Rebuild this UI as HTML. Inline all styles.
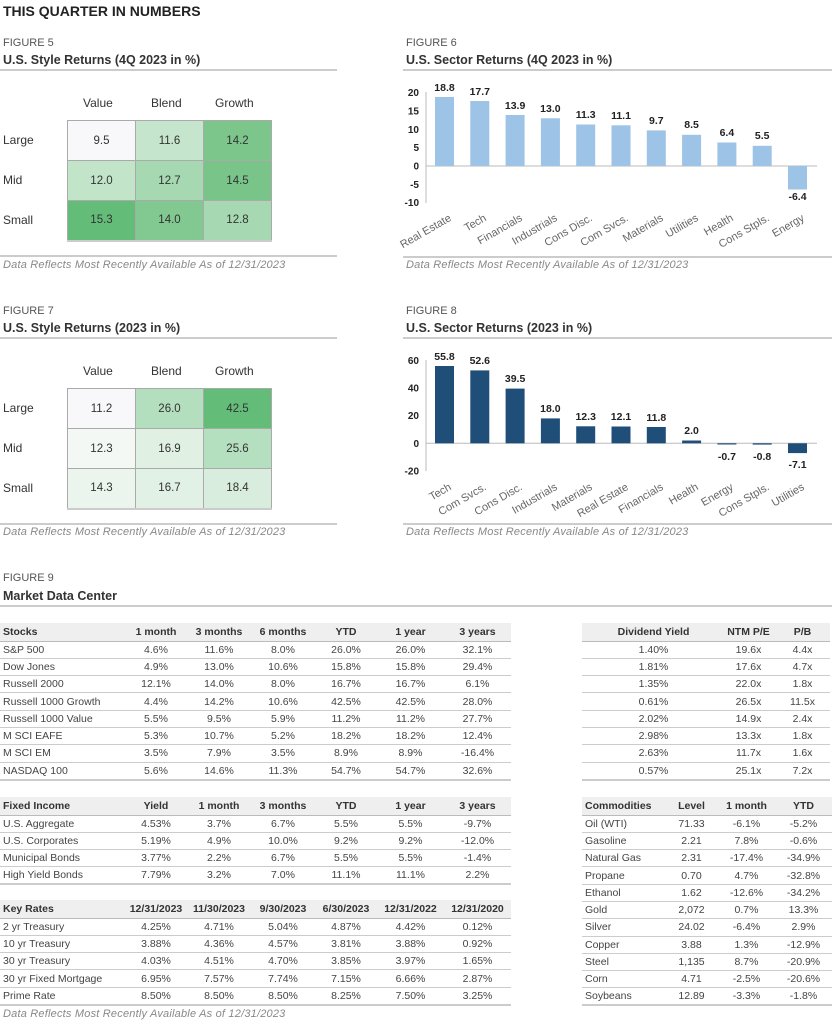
<!DOCTYPE html>
<html><head><meta charset="utf-8">
<style>
*{margin:0;padding:0;box-sizing:border-box}
body{width:832px;height:1024px;background:#fff;position:relative;font-family:"Liberation Sans",sans-serif;color:#333;overflow:hidden}
.a{position:absolute;white-space:nowrap}
.fig{font-size:11px;color:#555}
.ttl{font-size:12.5px;font-weight:bold;color:#333}
.rule{position:absolute;height:2px;background:#ccc}
.foot{font-size:11px;font-style:italic;color:#888;letter-spacing:0.2px}
table{position:absolute;border-collapse:collapse;table-layout:fixed;font-size:10.5px}
td{height:17.3px;border-bottom:1px solid #ccc;text-align:center;padding:0;line-height:16px;color:#444}
td:first-child{text-align:left;padding-left:3px}
tr.h td{background:#efefef;font-weight:bold;border-bottom:1.5px solid #bbb;height:18px;color:#333}
tr:last-child td{border-bottom:2px solid #ccc}
.hm{position:absolute;border-collapse:collapse;font-size:11.5px}
.hm td{border:1px solid #aaa;width:68px;height:40px;text-align:center;padding:0;color:#333}
.hm td:first-child{text-align:center;padding:0}
.lab{font-size:12px;color:#333}
</style></head><body>
<div class="a" style="left:3px;top:3px;font-size:14px;font-weight:bold;color:#222">THIS QUARTER IN NUMBERS</div>

<!-- Figure 5 -->
<div class="a fig" style="left:3px;top:37px">FIGURE 5</div>
<div class="a ttl" style="left:3px;top:53px">U.S. Style Returns (4Q 2023 in %)</div>
<div class="rule" style="left:0;top:69px;width:337px"></div>
<div class="a lab" style="left:83px;top:96px">Value</div>
<div class="a lab" style="left:151px;top:96px">Blend</div>
<div class="a lab" style="left:215px;top:96px">Growth</div>
<div class="a lab" style="left:3px;top:133px">Large</div>
<div class="a lab" style="left:3px;top:173px">Mid</div>
<div class="a lab" style="left:3px;top:213px">Small</div>
<table class="hm" style="left:67px;top:120px">
<tr><td style="background:#f8f8fb">9.5</td><td style="background:#c5e6cc">11.6</td><td style="background:#7cc68c">14.2</td></tr>
<tr><td style="background:#c2e5c9">12.0</td><td style="background:#a6d9b1">12.7</td><td style="background:#78c489">14.5</td></tr>
<tr><td style="background:#63bd78">15.3</td><td style="background:#82c991">14.0</td><td style="background:#a6d9b1">12.8</td></tr>
</table>
<div class="rule" style="left:0;top:255px;width:337px"></div>
<div class="a foot" style="left:3px;top:259px">Data Reflects Most Recently Available As of 12/31/2023</div>

<!-- Figure 7 -->
<div class="a fig" style="left:3px;top:305px">FIGURE 7</div>
<div class="a ttl" style="left:3px;top:321px">U.S. Style Returns (2023 in %)</div>
<div class="rule" style="left:0;top:337px;width:337px"></div>
<div class="a lab" style="left:83px;top:364px">Value</div>
<div class="a lab" style="left:151px;top:364px">Blend</div>
<div class="a lab" style="left:215px;top:364px">Growth</div>
<div class="a lab" style="left:3px;top:401px">Large</div>
<div class="a lab" style="left:3px;top:441px">Mid</div>
<div class="a lab" style="left:3px;top:481px">Small</div>
<table class="hm" style="left:67px;top:388px">
<tr><td style="background:#f8f8fb">11.2</td><td style="background:#b3dfbe">26.0</td><td style="background:#63bd78">42.5</td></tr>
<tr><td style="background:#f3f8f5">12.3</td><td style="background:#e0f1e4">16.9</td><td style="background:#b5e0c0">25.6</td></tr>
<tr><td style="background:#ebf5ee">14.3</td><td style="background:#e1f1e5">16.7</td><td style="background:#d8eddd">18.4</td></tr>
</table>
<div class="rule" style="left:0;top:523px;width:337px"></div>
<div class="a foot" style="left:3px;top:526px">Data Reflects Most Recently Available As of 12/31/2023</div>

<!-- Figure 6 & 8 -->
<div class="a fig" style="left:406px;top:37px">FIGURE 6</div>
<div class="a ttl" style="left:406px;top:53px">U.S. Sector Returns (4Q 2023 in %)</div>
<div class="rule" style="left:403px;top:69px;width:429px"></div>
<div class="rule" style="left:403px;top:256px;width:429px"></div>
<div class="a foot" style="left:406px;top:259px">Data Reflects Most Recently Available As of 12/31/2023</div>
<div class="a fig" style="left:406px;top:305px">FIGURE 8</div>
<div class="a ttl" style="left:406px;top:321px">U.S. Sector Returns (2023 in %)</div>
<div class="rule" style="left:403px;top:337px;width:429px"></div>
<div class="rule" style="left:403px;top:523px;width:429px"></div>
<div class="a foot" style="left:406px;top:526px">Data Reflects Most Recently Available As of 12/31/2023</div>

<svg class="a" style="left:0;top:0" width="832" height="1024" font-family="Liberation Sans, sans-serif">
<g font-size="10" font-weight="bold" fill="#222" text-anchor="end">
<text x="419" y="96">20</text><text x="419" y="114.5">15</text><text x="419" y="133">10</text><text x="419" y="151">5</text><text x="419" y="169.5">0</text><text x="419" y="188">-5</text><text x="419" y="206">-10</text>
<text x="419" y="364">60</text><text x="419" y="391.5">40</text><text x="419" y="419">20</text><text x="419" y="447">0</text><text x="419" y="474.5">-20</text>
</g>
<g stroke="#bbb" stroke-width="1">
<line x1="426" y1="92" x2="426" y2="203"/><line x1="426" y1="166" x2="817" y2="166"/>
<line x1="426" y1="360" x2="426" y2="471"/><line x1="426" y1="443.3" x2="817" y2="443.3"/>
</g>
<g fill="#9dc3e6">
<rect x="435" y="97" width="19" height="69"/><rect x="470.3" y="101" width="19" height="65"/><rect x="505.6" y="115" width="19" height="51"/><rect x="540.9" y="118.3" width="19" height="47.7"/><rect x="576.2" y="124.5" width="19" height="41.5"/><rect x="611.5" y="125.3" width="19" height="40.7"/><rect x="646.8" y="130.4" width="19" height="35.6"/><rect x="682.1" y="134.8" width="19" height="31.2"/><rect x="717.4" y="142.5" width="19" height="23.5"/><rect x="752.7" y="145.8" width="19" height="20.2"/><rect x="788" y="166" width="19" height="23.5"/>
</g>
<g fill="#1f4e79">
<rect x="435" y="366" width="19" height="77.3"/><rect x="470.3" y="370.4" width="19" height="72.9"/><rect x="505.6" y="388.6" width="19" height="54.7"/><rect x="540.9" y="418.4" width="19" height="24.9"/><rect x="576.2" y="426.3" width="19" height="17"/><rect x="611.5" y="426.5" width="19" height="16.8"/><rect x="646.8" y="427" width="19" height="16.3"/><rect x="682.1" y="440.5" width="19" height="2.8"/><rect x="717.4" y="443.3" width="19" height="1.2"/><rect x="752.7" y="443.3" width="19" height="1.3"/><rect x="788" y="443.3" width="19" height="9.8"/>
</g>
<g font-size="10.5" font-weight="bold" fill="#222" text-anchor="middle">
<text x="444.5" y="91">18.8</text><text x="479.8" y="95">17.7</text><text x="515.1" y="109">13.9</text><text x="550.4" y="112">13.0</text><text x="585.7" y="118">11.3</text><text x="621" y="119">11.1</text><text x="656.3" y="124">9.7</text><text x="691.6" y="128">8.5</text><text x="726.9" y="136">6.4</text><text x="762.2" y="139">5.5</text><text x="797.5" y="200">-6.4</text>
<text x="444.5" y="360">55.8</text><text x="479.8" y="364">52.6</text><text x="515.1" y="382">39.5</text><text x="550.4" y="412">18.0</text><text x="585.7" y="420">12.3</text><text x="621" y="420">12.1</text><text x="656.3" y="421">11.8</text><text x="691.6" y="434">2.0</text><text x="726.9" y="460">-0.7</text><text x="762.2" y="460">-0.8</text><text x="797.5" y="468">-7.1</text>
</g>
<g font-size="11" fill="#666" text-anchor="end">
<text transform="translate(452,220) rotate(-30)">Real Estate</text><text transform="translate(487,220) rotate(-30)">Tech</text><text transform="translate(523,220) rotate(-30)">Financials</text><text transform="translate(558,220) rotate(-30)">Industrials</text><text transform="translate(593,220) rotate(-30)">Cons Disc.</text><text transform="translate(629,220) rotate(-30)">Com Svcs.</text><text transform="translate(664,220) rotate(-30)">Materials</text><text transform="translate(699,220) rotate(-30)">Utilities</text><text transform="translate(734,220) rotate(-30)">Health</text><text transform="translate(770,220) rotate(-30)">Cons Stpls.</text><text transform="translate(805,220) rotate(-30)">Energy</text>
<text transform="translate(452,489) rotate(-30)">Tech</text><text transform="translate(487,489) rotate(-30)">Com Svcs.</text><text transform="translate(523,489) rotate(-30)">Cons Disc.</text><text transform="translate(558,489) rotate(-30)">Industrials</text><text transform="translate(593,489) rotate(-30)">Materials</text><text transform="translate(629,489) rotate(-30)">Real Estate</text><text transform="translate(664,489) rotate(-30)">Financials</text><text transform="translate(699,489) rotate(-30)">Health</text><text transform="translate(734,489) rotate(-30)">Energy</text><text transform="translate(770,489) rotate(-30)">Cons Stpls.</text><text transform="translate(805,489) rotate(-30)">Utilities</text>
</g>
</svg>

<!-- Figure 9 -->
<div class="a fig" style="left:3px;top:572px">FIGURE 9</div>
<div class="a ttl" style="left:3px;top:589px">Market Data Center</div>
<div class="rule" style="left:0;top:605px;width:832px"></div>

<table style="left:0;top:623px;width:511px">
<colgroup><col style="width:125px"><col style="width:62px"><col style="width:64px"><col style="width:64px"><col style="width:62px"><col style="width:67px"><col style="width:67px"></colgroup>
<tr class="h"><td>Stocks</td><td>1 month</td><td>3 months</td><td>6 months</td><td>YTD</td><td>1 year</td><td>3 years</td></tr>
<tr><td>S&amp;P 500</td><td>4.6%</td><td>11.6%</td><td>8.0%</td><td>26.0%</td><td>26.0%</td><td>32.1%</td></tr>
<tr><td>Dow Jones</td><td>4.9%</td><td>13.0%</td><td>10.6%</td><td>15.8%</td><td>15.8%</td><td>29.4%</td></tr>
<tr><td>Russell 2000</td><td>12.1%</td><td>14.0%</td><td>8.0%</td><td>16.7%</td><td>16.7%</td><td>6.1%</td></tr>
<tr><td>Russell 1000 Growth</td><td>4.4%</td><td>14.2%</td><td>10.6%</td><td>42.5%</td><td>42.5%</td><td>28.0%</td></tr>
<tr><td>Russell 1000 Value</td><td>5.5%</td><td>9.5%</td><td>5.9%</td><td>11.2%</td><td>11.2%</td><td>27.7%</td></tr>
<tr><td>M SCI EAFE</td><td>5.3%</td><td>10.7%</td><td>5.2%</td><td>18.2%</td><td>18.2%</td><td>12.4%</td></tr>
<tr><td>M SCI EM</td><td>3.5%</td><td>7.9%</td><td>3.5%</td><td>8.9%</td><td>8.9%</td><td>-16.4%</td></tr>
<tr><td>NASDAQ 100</td><td>5.6%</td><td>14.6%</td><td>11.3%</td><td>54.7%</td><td>54.7%</td><td>32.6%</td></tr>
</table>

<table style="left:582px;top:623px;width:248px">
<colgroup><col style="width:140px"><col style="width:53px"><col style="width:55px"></colgroup>
<tr class="h"><td style="text-align:center">Dividend Yield</td><td>NTM P/E</td><td>P/B</td></tr>
<tr><td style="text-align:center">1.40%</td><td>19.6x</td><td>4.4x</td></tr>
<tr><td style="text-align:center">1.81%</td><td>17.6x</td><td>4.7x</td></tr>
<tr><td style="text-align:center">1.35%</td><td>22.0x</td><td>1.8x</td></tr>
<tr><td style="text-align:center">0.61%</td><td>26.5x</td><td>11.5x</td></tr>
<tr><td style="text-align:center">2.02%</td><td>14.9x</td><td>2.4x</td></tr>
<tr><td style="text-align:center">2.98%</td><td>13.3x</td><td>1.8x</td></tr>
<tr><td style="text-align:center">2.63%</td><td>11.7x</td><td>1.6x</td></tr>
<tr><td style="text-align:center">0.57%</td><td>25.1x</td><td>7.2x</td></tr>
</table>

<table style="left:0;top:797px;width:511px">
<colgroup><col style="width:125px"><col style="width:62px"><col style="width:64px"><col style="width:64px"><col style="width:62px"><col style="width:67px"><col style="width:67px"></colgroup>
<tr class="h"><td>Fixed Income</td><td>Yield</td><td>1 month</td><td>3 months</td><td>YTD</td><td>1 year</td><td>3 years</td></tr>
<tr><td>U.S. Aggregate</td><td>4.53%</td><td>3.7%</td><td>6.7%</td><td>5.5%</td><td>5.5%</td><td>-9.7%</td></tr>
<tr><td>U.S. Corporates</td><td>5.19%</td><td>4.9%</td><td>10.0%</td><td>9.2%</td><td>9.2%</td><td>-12.0%</td></tr>
<tr><td>Municipal Bonds</td><td>3.77%</td><td>2.2%</td><td>6.7%</td><td>5.5%</td><td>5.5%</td><td>-1.4%</td></tr>
<tr><td>High Yield Bonds</td><td>7.79%</td><td>3.2%</td><td>7.0%</td><td>11.1%</td><td>11.1%</td><td>2.2%</td></tr>
</table>

<table style="left:0;top:900px;width:511px">
<colgroup><col style="width:125px"><col style="width:62px"><col style="width:64px"><col style="width:64px"><col style="width:62px"><col style="width:67px"><col style="width:67px"></colgroup>
<tr class="h"><td>Key Rates</td><td>12/31/2023</td><td>11/30/2023</td><td>9/30/2023</td><td>6/30/2023</td><td>12/31/2022</td><td>12/31/2020</td></tr>
<tr><td>2 yr Treasury</td><td>4.25%</td><td>4.71%</td><td>5.04%</td><td>4.87%</td><td>4.42%</td><td>0.12%</td></tr>
<tr><td>10 yr Treasury</td><td>3.88%</td><td>4.36%</td><td>4.57%</td><td>3.81%</td><td>3.88%</td><td>0.92%</td></tr>
<tr><td>30 yr Treasury</td><td>4.03%</td><td>4.51%</td><td>4.70%</td><td>3.85%</td><td>3.97%</td><td>1.65%</td></tr>
<tr><td>30 yr Fixed Mortgage</td><td>6.95%</td><td>7.57%</td><td>7.74%</td><td>7.15%</td><td>6.66%</td><td>2.87%</td></tr>
<tr><td>Prime Rate</td><td>8.50%</td><td>8.50%</td><td>8.50%</td><td>8.25%</td><td>7.50%</td><td>3.25%</td></tr>
</table>

<table style="left:582px;top:797px;width:250px">
<colgroup><col style="width:83px"><col style="width:53px"><col style="width:57px"><col style="width:57px"></colgroup>
<tr class="h"><td>Commodities</td><td>Level</td><td>1 month</td><td>YTD</td></tr>
<tr><td>Oil (WTI)</td><td>71.33</td><td>-6.1%</td><td>-5.2%</td></tr>
<tr><td>Gasoline</td><td>2.21</td><td>7.8%</td><td>-0.6%</td></tr>
<tr><td>Natural Gas</td><td>2.31</td><td>-17.4%</td><td>-34.9%</td></tr>
<tr><td>Propane</td><td>0.70</td><td>4.7%</td><td>-32.8%</td></tr>
<tr><td>Ethanol</td><td>1.62</td><td>-12.6%</td><td>-34.2%</td></tr>
<tr><td>Gold</td><td>2,072</td><td>0.7%</td><td>13.3%</td></tr>
<tr><td>Silver</td><td>24.02</td><td>-6.4%</td><td>2.9%</td></tr>
<tr><td>Copper</td><td>3.88</td><td>1.3%</td><td>-12.9%</td></tr>
<tr><td>Steel</td><td>1,135</td><td>8.7%</td><td>-20.9%</td></tr>
<tr><td>Corn</td><td>4.71</td><td>-2.5%</td><td>-20.6%</td></tr>
<tr><td>Soybeans</td><td>12.89</td><td>-3.3%</td><td>-1.8%</td></tr>
</table>

<div class="a foot" style="left:3px;top:1008px">Data Reflects Most Recently Available As of 12/31/2023</div>
</body></html>
